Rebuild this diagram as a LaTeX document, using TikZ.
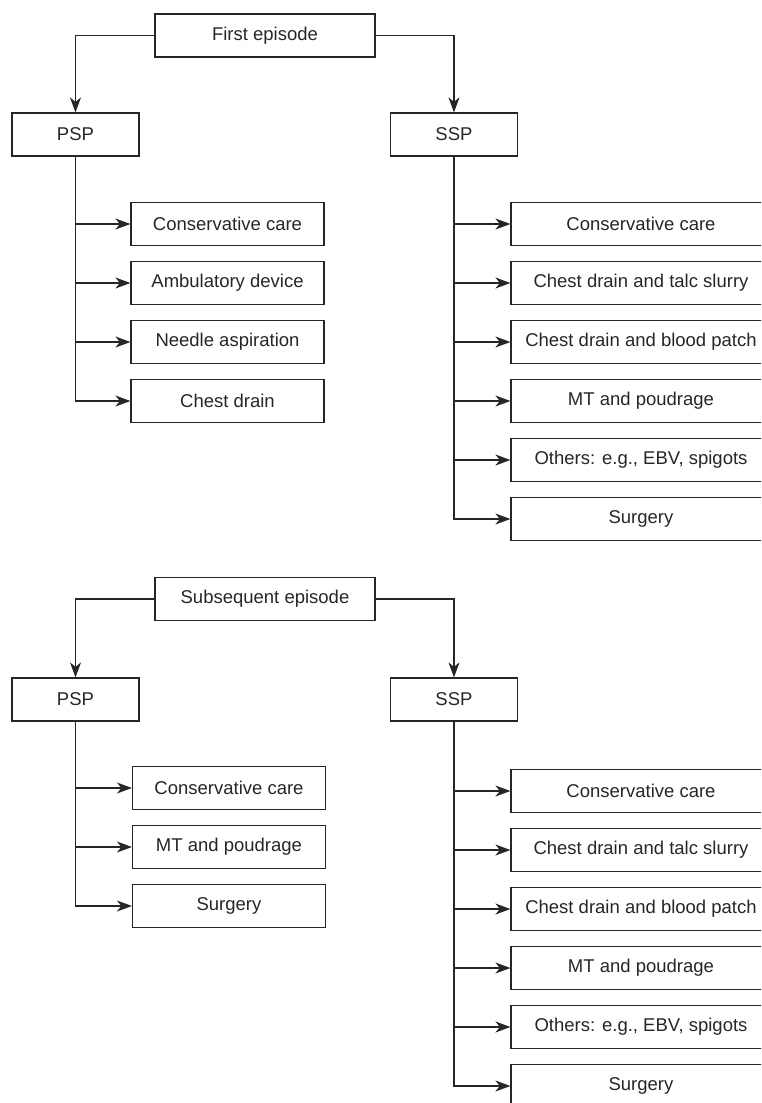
\documentclass[tikz,border=0pt]{standalone}
\usepackage{fontspec}
\setmainfont{Liberation Sans}
\usetikzlibrary{arrows.meta}
\tikzset{>={Stealth[length=15pt,width=11pt,inset=4.5pt]}}
\tikzset{
  box/.style={draw=black!85, line width=1.2pt, inset sep, minimum height=43pt,
    font=\fontsize{18.5}{21}\selectfont, text=black!85},
  inset sep/.style={inner sep=0pt},
  toptreat/.style={box, minimum width=193pt},
  sidetreat/.style={box, minimum width=260pt},
  link/.style={draw=black!85, line width=1.2pt, ->}
}

\begin{document}
\begin{tikzpicture}[x=1pt, y=-1pt]
\useasboundingbox (0,0) rectangle (761,1103);
\clip (0,0) rectangle (761,1103);

\node[box, minimum width=220pt] (first) at (265,35.5) {First episode};
\node[box, minimum width=127pt] (psp1) at (75.5,134.5) {PSP};
\node[box, minimum width=127pt] (ssp1) at (454,134.5) {SSP};
\draw[link] (first.west) -| (psp1.north);
\draw[link] (first.east) -| (ssp1.north);

\node[toptreat] (pcare1) at (227.5,224) {Conservative care};
\node[toptreat] (pamb1) at (227.5,283) {Ambulatory device};
\node[toptreat] (pneedle1) at (227.5,342) {Needle aspiration};
\node[toptreat] (pdrain1) at (227.5,401) {Chest drain};
\draw[link] (psp1.south) |- (pcare1.west);
\draw[link] (psp1.south) |- (pamb1.west);
\draw[link] (psp1.south) |- (pneedle1.west);
\draw[link] (psp1.south) |- (pdrain1.west);

\node[sidetreat] (scare1) at (641,224) {Conservative care};
\node[sidetreat] (stalc1) at (641,283) {Chest drain and talc slurry};
\node[sidetreat] (sblood1) at (641,342) {Chest drain and blood patch};
\node[sidetreat] (smt1) at (641,401) {MT and poudrage};
\node[sidetreat] (sother1) at (641,460) {Others: e.g., EBV, spigots};
\node[sidetreat] (ssurg1) at (641,519) {Surgery};
\draw[link] (ssp1.south) |- (scare1.west);
\draw[link] (ssp1.south) |- (stalc1.west);
\draw[link] (ssp1.south) |- (sblood1.west);
\draw[link] (ssp1.south) |- (smt1.west);
\draw[link] (ssp1.south) |- (sother1.west);
\draw[link] (ssp1.south) |- (ssurg1.west);

\node[box, minimum width=220pt] (second) at (265,599) {Subsequent episode};
\node[box, minimum width=127pt] (psp2) at (75.5,699.5) {PSP};
\node[box, minimum width=127pt] (ssp2) at (454,699.5) {SSP};
\draw[link] (second.west) -| (psp2.north);
\draw[link] (second.east) -| (ssp2.north);

\node[toptreat] (pcare2) at (229,788) {Conservative care};
\node[toptreat] (pmt2) at (229,847) {MT and poudrage};
\node[toptreat] (psurg2) at (229,906) {Surgery};
\draw[link] (psp2.south) |- (pcare2.west);
\draw[link] (psp2.south) |- (pmt2.west);
\draw[link] (psp2.south) |- (psurg2.west);

\node[sidetreat] (scare2) at (641,791) {Conservative care};
\node[sidetreat] (stalc2) at (641,850) {Chest drain and talc slurry};
\node[sidetreat] (sblood2) at (641,909) {Chest drain and blood patch};
\node[sidetreat] (smt2) at (641,968) {MT and poudrage};
\node[sidetreat] (sother2) at (641,1027) {Others: e.g., EBV, spigots};
\node[sidetreat] (ssurg2) at (641,1086) {Surgery};
\draw[link] (ssp2.south) |- (scare2.west);
\draw[link] (ssp2.south) |- (stalc2.west);
\draw[link] (ssp2.south) |- (sblood2.west);
\draw[link] (ssp2.south) |- (smt2.west);
\draw[link] (ssp2.south) |- (sother2.west);
\draw[link] (ssp2.south) |- (ssurg2.west);
\end{tikzpicture}
\end{document}
